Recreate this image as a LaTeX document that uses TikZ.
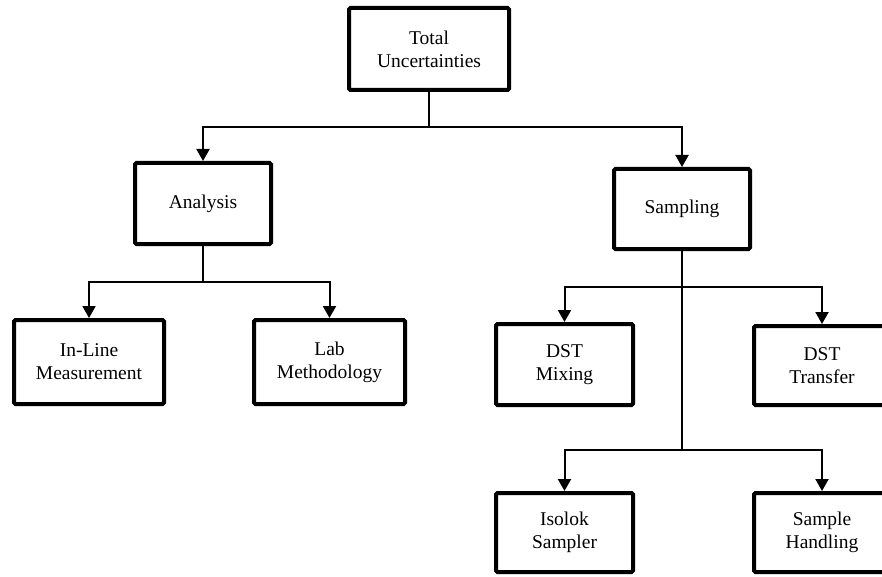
\documentclass[tikz,border=0pt]{standalone}
\usepackage{fontspec}
\setmainfont{Liberation Serif}
\usepackage{tikz}
\usetikzlibrary{arrows.meta}
\tikzset{
  ubox/.style={draw, line width=4pt, rounded corners=1.5pt, align=center,
    inner sep=0pt, font=\fontsize{19.5}{23}\selectfont},
  conn/.style={line width=2pt},
  arr/.style={conn, -{Triangle[length=12pt,width=13pt]}}
}
\newcommand{\ubox}[6]{\node[ubox, minimum width=#4, minimum height=#5] (#1) at ( #2 , #3 ) {#6};}

\begin{document}
\begin{tikzpicture}[x=1pt,y=-1pt]
        \clip (0,0) rectangle (882,577);
        % top
        \ubox{total}{429}{49}{160pt}{82pt}{Total\\Uncertainties}
        % row1
        \ubox{analysis}{203}{203.5}{136pt}{81pt}{Analysis}
        \ubox{sampling}{682}{209}{136pt}{80pt}{Sampling}
        % row2
        \ubox{inline}{89}{362}{150pt}{84pt}{In-Line\\Measurement}
        \ubox{lab}{329.5}{362}{151pt}{84pt}{Lab\\Methodology}
        \ubox{mixing}{564.5}{364.5}{137pt}{81pt}{DST\\Mixing}
        \ubox{transfer}{822}{365.5}{136pt}{79pt}{DST\\Transfer}
        % row3
        \ubox{isolok}{564.5}{532.5}{137pt}{79pt}{Isolok\\Sampler}
        \ubox{handling}{822}{532.5}{136pt}{79pt}{Sample\\Handling}
        % split points
        \coordinate (tsplit) at (429,127);
        \coordinate (asplit) at (203,282);
        \coordinate (ssplit1) at (682,287);
        \coordinate (ssplit2) at (682,450);
        % connectors
        \draw[conn] (total.south) -- (tsplit);
        \draw[arr] (tsplit) -| (analysis.north);
        \draw[arr] (tsplit) -| (sampling.north);
        \draw[conn] (analysis.south) -- (asplit);
        \draw[arr] (asplit) -| (inline.north);
        \draw[arr] (asplit) -| (lab.north);
        \draw[conn] (sampling.south) -- (ssplit2);
        \draw[arr] (ssplit1) -| (mixing.north);
        \draw[arr] (ssplit1) -| (transfer.north);
        \draw[arr] (ssplit2) -| (isolok.north);
        \draw[arr] (ssplit2) -| (handling.north);
\end{tikzpicture}
\end{document}
